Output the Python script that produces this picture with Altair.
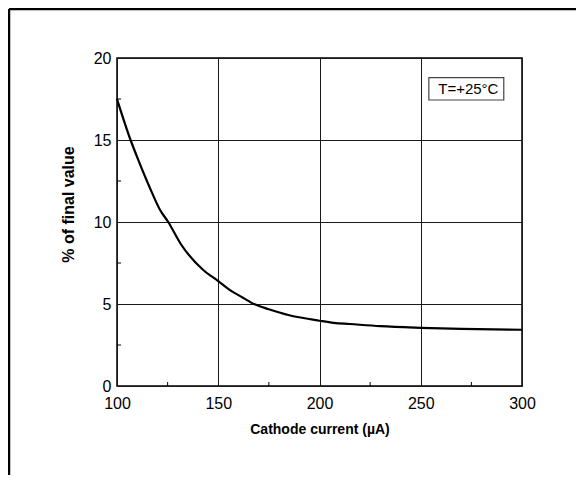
import altair as alt
import pandas as pd

# Curve data
current = [100, 106.7, 110.8, 116, 121.2, 125.3, 131.5, 142.6, 150, 155.8, 162,
           168, 175, 184.6, 200, 207, 215, 230, 250, 270, 300]
pct = [17.5, 15.0, 13.7, 12.15, 10.75, 10.0, 8.66, 7.07, 6.4, 5.85, 5.4,
       4.98, 4.68, 4.33, 3.98, 3.85, 3.78, 3.65, 3.55, 3.48, 3.43]

x_ticks = [100, 150, 200, 250, 300]
y_ticks = [0, 5, 10, 15, 20]
x_minor = [125, 175, 225, 275]
y_minor = [2.5, 7.5, 12.5, 17.5]

note_text = ["T=+25°C"]
note_x = [273.5]
note_y = [18.12]
note_box_x = [254.0]
note_box_x2 = [291.0]
note_box_y = [17.44]
note_box_y2 = [18.8]

FONT = "Liberation Sans"
W, H = 405, 328

curve_df = pd.DataFrame({"current": current, "pct": pct})
xm_df = pd.DataFrame({"v": x_minor})
ym_df = pd.DataFrame({"v": y_minor})
note_df = pd.DataFrame({"t": note_text, "x": note_x, "y": note_y,
                        "bx": note_box_x, "bx2": note_box_x2,
                        "by": note_box_y, "by2": note_box_y2})
one = pd.DataFrame({"a": [0]})

xscale = alt.Scale(domain=[100, 300], nice=False, zero=False)
yscale = alt.Scale(domain=[0, 20], nice=False)

xaxis = alt.Axis(values=x_ticks, tickSize=0, domain=False, grid=True,
                 gridColor="#1a1a1a", gridWidth=1, labelFontSize=16,
                 labelFont=FONT, labelColor="#000", labelPadding=9,
                 labelFlush=False, labelOverlap=False,
                 title="Cathode current (µA)", titleFont=FONT, titleFontSize=14,
                 titleFontWeight="bold", titleColor="#000", titlePadding=11)
yaxis = alt.Axis(values=y_ticks, tickSize=0, domain=False, grid=True,
                 gridColor="#1a1a1a", gridWidth=1, labelFontSize=16,
                 labelFont=FONT, labelColor="#000", labelPadding=6,
                 labelFlush=False, labelOverlap=False,
                 title="% of final value", titleFont=FONT, titleFontSize=16,
                 titleFontWeight="bold", titleColor="#000", titlePadding=17,
                 titleY=146)

curve = alt.Chart(curve_df).mark_line(color="black", strokeWidth=2.2,
                                      interpolate="monotone").encode(
    x=alt.X("current:Q", scale=xscale, axis=xaxis),
    y=alt.Y("pct:Q", scale=yscale, axis=yaxis),
)

xminor = alt.Chart(xm_df).mark_rule(color="black", strokeWidth=1).encode(
    x=alt.X("v:Q", scale=xscale),
    y=alt.value(H), y2=alt.value(H - 4),
)
yminor = alt.Chart(ym_df).mark_rule(color="black", strokeWidth=1).encode(
    y=alt.Y("v:Q", scale=yscale),
    x=alt.value(0), x2=alt.value(4),
)

box = alt.Chart(note_df).mark_rect(fill="white", stroke="#444",
                                   strokeWidth=1.2).encode(
    x=alt.X("bx:Q", scale=xscale), x2="bx2:Q",
    y=alt.Y("by:Q", scale=yscale), y2="by2:Q",
)
label = alt.Chart(note_df).mark_text(font=FONT, fontSize=15, color="#000",
                                     align="center", baseline="middle").encode(
    x=alt.X("x:Q", scale=xscale), y=alt.Y("y:Q", scale=yscale), text="t:N",
)

frame_top = alt.Chart(one).mark_rule(color="black", strokeWidth=2.5).encode(
    x=alt.value(-108), x2=alt.value(459), y=alt.value(-49))
frame_left = alt.Chart(one).mark_rule(color="black", strokeWidth=2.5).encode(
    x=alt.value(-108), y=alt.value(-49), y2=alt.value(417))

chart = alt.layer(curve, xminor, yminor, box, label, frame_top, frame_left).properties(
    width=W, height=H,
    autosize=alt.AutoSizeParams(type="none"),
    padding={"left": 109, "top": 50, "right": 54, "bottom": 89},
    background="white",
).configure_view(stroke="black", strokeWidth=1.5)

chart.save("out.html", embed_options={"renderer": "svg", "actions": False})
